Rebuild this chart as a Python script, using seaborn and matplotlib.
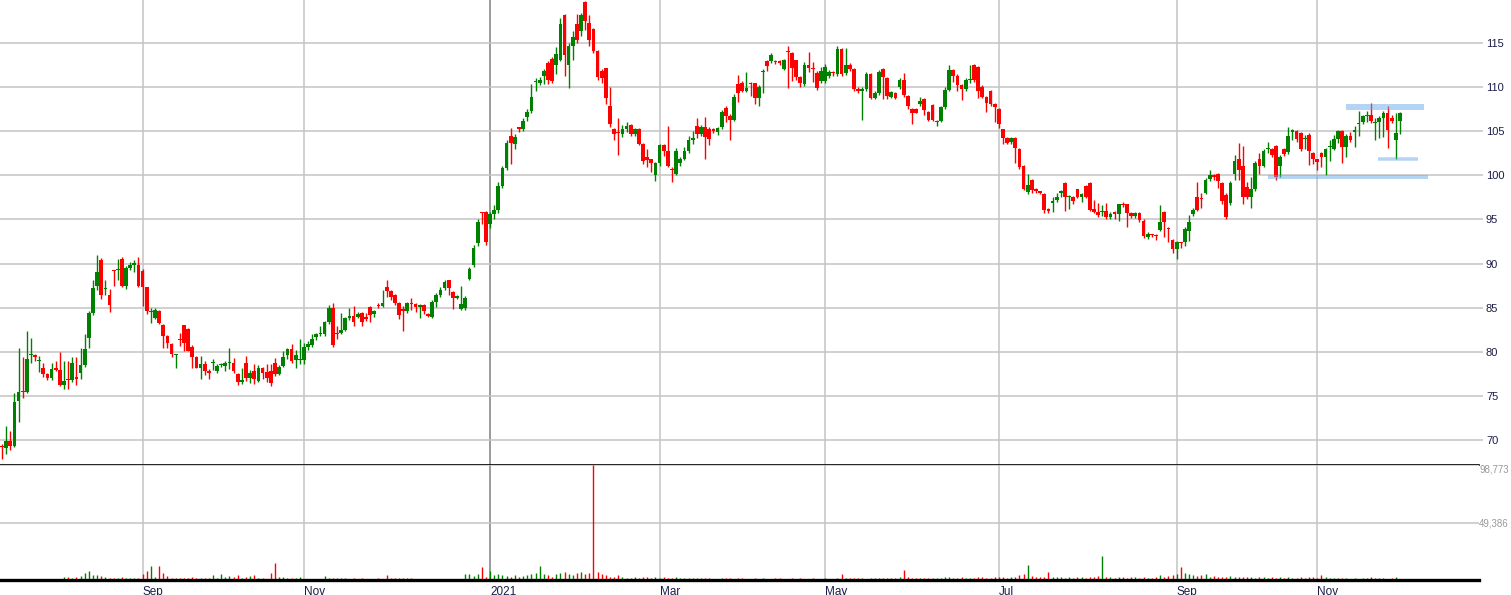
import numpy as np
import matplotlib
matplotlib.use('Agg')
import matplotlib.pyplot as plt
import seaborn as sns

# daily candles (index 0 = first candle on the left)
opens = [
    69.4, 69.1, 69.9, 69.4, 74.4, 75.6, 75.5, 79.6, 79.7, 78.95,
    78.2, 77.5, 77.1, 78.2, 78.0, 76.3, 76.9, 76.8, 77.2, 77.6,
    78.5, 81.6, 84.4, 87.5, 90.4, 87.1, 86.5, 89.3, 89.25, 90.5,
    87.5, 89.5, 89.9, 89.8, 89.2, 87.3, 84.5, 83.8, 84.6, 83.1,
    81.8, 80.9, 79.65, 81.4, 83.1, 82.6, 80.6, 79.4, 78.2, 78.6,
    77.8, 78.75, 77.8, 78.55, 78.4, 78.75, 78.8, 77.5, 76.6, 78.8,
    77.0, 77.8, 76.7, 78.2, 77.7, 77.8, 78.7, 77.5, 78.4, 79.7,
    80.3, 79.1, 79.1, 79.1, 80.6, 80.8, 81.7, 82.05, 82.0, 83.4,
    85.0, 82.1, 82.1, 82.5, 83.8, 84.1, 84.0, 84.4, 84.0, 85.1,
    84.3, 85.3, 85.2, 87.3, 86.9, 86.5, 85.5, 84.9, 84.6, 85.5,
    85.4, 85.1, 85.3, 84.3, 84.0, 85.7, 86.4, 87.2, 88.1, 86.8,
    86.1, 84.9, 85.0, 88.3, 89.8, 92.3, 95.8, 95.8, 94.5, 95.6,
    96.1, 98.8, 100.8, 104.4, 103.6, 105.4, 105.2, 106.6, 107.3, 110.55,
    110.5, 111.3, 112.7, 113.2, 112.5, 113.1, 118.2, 112.5, 114.6, 117.1,
    116.3, 119.6, 117.2, 116.6, 114.1, 111.8, 112.1, 107.8, 105.3, 104.85,
    104.7, 105.2, 105.7, 104.7, 105.3, 103.6, 102.1, 101.8, 100.0, 101.4,
    103.4, 102.7, 100.7, 100.2, 101.4, 101.9, 102.7, 104.0, 105.6, 104.7,
    105.5, 105.3, 105.2, 104.9, 105.5, 107.6, 106.7, 106.3, 110.3, 110.5,
    109.6, 110.45, 110.4, 108.7, 111.65, 112.9, 112.9, 112.95, 112.9, 112.0,
    114.05, 113.9, 113.0, 111.1, 110.3, 112.5, 112.15, 111.6, 110.7, 110.7,
    111.2, 111.65, 111.5, 114.3, 111.6, 112.5, 112.0, 109.8, 109.5, 109.8,
    111.5, 108.8, 109.3, 112.0, 111.0, 108.9, 109.3, 110.0, 110.8, 109.0,
    107.5, 107.5, 108.1, 108.6, 107.2, 108.0, 106.0, 106.2, 107.7, 109.7,
    111.9, 111.3, 110.2, 109.8, 110.75, 112.5, 112.3, 110.0, 108.9, 109.6,
    108.1, 107.5, 105.2, 104.2, 103.8, 104.2, 103.0, 101.1, 98.1, 99.5,
    98.5, 98.15, 97.9, 96.2, 96.9, 97.2, 98.05, 99.1, 97.5, 97.6,
    98.4, 97.6, 98.8, 99.1, 96.2, 95.9, 95.85, 96.0, 95.3, 95.8,
    95.6, 96.75, 96.7, 95.7, 95.4, 95.7, 94.8, 93.0, 93.3, 93.25,
    93.8, 95.9, 94.05, 92.7, 91.7, 92.45, 92.5, 93.7, 95.6, 97.6,
    97.45, 98.0, 99.6, 100.0, 100.2, 99.1, 97.8, 96.9, 100.1, 101.8,
    101.1, 98.7, 97.6, 98.4, 101.8, 101.1, 102.95, 103.0, 103.3, 101.1,
    103.0, 102.6, 104.95, 105.0, 104.8, 104.15, 104.6, 102.5, 101.8, 102.5,
    102.1, 103.15, 103.0, 104.1, 105.0, 103.2, 104.5, 104.95, 105.8, 106.0,
    106.75, 106.8, 105.95, 106.0, 106.5, 107.0, 106.5, 104.0, 106.1,
]
closes = [
    69.2, 69.9, 69.4, 74.3, 75.5, 75.5, 79.2, 79.7, 79.4, 79.05,
    77.5, 77.1, 78.1, 78.0, 76.3, 76.7, 76.8, 78.8, 76.9, 78.5,
    80.3, 84.4, 87.2, 89.0, 86.4, 87.2, 85.3, 89.2, 89.35, 87.5,
    89.5, 89.8, 90.0, 87.5, 87.4, 84.6, 84.6, 84.8, 83.3, 81.8,
    81.0, 79.8, 79.75, 81.3, 81.0, 80.1, 79.4, 78.2, 78.6, 77.8,
    77.6, 78.85, 78.4, 78.65, 78.8, 78.85, 77.8, 76.6, 76.8, 77.0,
    77.6, 76.9, 78.2, 77.6, 77.1, 76.5, 77.5, 78.3, 79.4, 80.3,
    79.0, 79.7, 79.2, 80.6, 80.9, 81.5, 82.0, 82.15, 83.4, 85.0,
    80.8, 82.0, 82.5, 83.8, 84.1, 83.4, 84.3, 83.4, 83.7, 84.2,
    84.6, 85.2, 85.5, 86.9, 86.2, 85.5, 84.2, 84.6, 85.5, 85.4,
    85.1, 85.3, 84.6, 84.1, 85.7, 86.4, 87.0, 87.9, 87.2, 86.1,
    86.3, 85.4, 86.1, 89.4, 91.8, 94.7, 95.7, 92.4, 95.6, 96.1,
    98.8, 100.8, 103.7, 103.7, 104.3, 105.3, 106.2, 107.2, 108.9, 110.65,
    110.8, 111.8, 110.8, 110.7, 113.7, 117.1, 113.6, 114.6, 115.7, 115.3,
    118.2, 117.5, 115.3, 114.1, 111.1, 111.0, 108.7, 105.8, 104.7, 104.75,
    105.2, 105.6, 104.7, 105.3, 103.6, 101.6, 101.7, 101.4, 101.4, 103.4,
    102.7, 101.1, 100.6, 102.7, 101.8, 102.7, 104.0, 104.2, 104.7, 105.5,
    104.3, 104.1, 105.0, 105.4, 107.2, 106.7, 106.3, 108.9, 109.3, 109.6,
    109.9, 110.35, 108.7, 110.0, 111.75, 112.4, 113.6, 112.85, 112.7, 113.1,
    113.95, 112.2, 111.1, 110.4, 112.5, 112.2, 112.05, 109.9, 111.8, 112.3,
    111.7, 111.55, 114.3, 111.5, 112.5, 112.0, 109.8, 109.5, 109.8, 111.5,
    108.8, 109.3, 111.7, 111.1, 109.0, 109.4, 108.8, 110.8, 109.1, 107.8,
    107.1, 107.1, 108.4, 107.4, 106.3, 106.3, 106.2, 107.7, 109.7, 111.9,
    111.3, 110.2, 109.8, 110.8, 110.85, 110.8, 109.5, 108.9, 108.2, 108.1,
    107.7, 105.8, 104.2, 103.7, 104.2, 103.1, 100.9, 98.5, 98.9, 98.3,
    98.2, 98.05, 96.1, 96.0, 97.1, 97.5, 98.15, 97.5, 97.6, 97.1,
    97.6, 97.9, 97.6, 96.1, 95.9, 95.5, 95.95, 95.3, 95.6, 95.6,
    96.7, 96.65, 95.7, 95.4, 95.7, 94.9, 93.1, 93.3, 93.2, 93.15,
    94.7, 94.7, 93.95, 91.7, 92.4, 92.35, 93.9, 94.7, 96.1, 96.1,
    97.35, 99.5, 100.0, 99.8, 99.3, 97.1, 95.3, 99.1, 101.6, 100.6,
    97.5, 97.6, 98.4, 101.4, 101.1, 102.8, 103.05, 102.3, 99.8, 102.1,
    102.4, 104.5, 105.05, 104.1, 103.0, 104.25, 102.8, 101.8, 101.5, 102.1,
    103.0, 103.25, 104.1, 105.0, 103.2, 104.5, 104.0, 105.05, 105.9, 106.7,
    106.85, 106.1, 106.05, 106.5, 107.0, 105.1, 106.2, 104.8, 107.1,
]
highs = [
    69.6, 71.6, 71.0, 75.3, 80.5, 79.4, 82.4, 81.6, 79.8, 79.5,
    78.7, 77.6, 78.7, 79.0, 80.0, 79.0, 79.0, 79.4, 79.4, 80.4,
    82.0, 84.6, 88.2, 91.0, 90.6, 88.2, 87.1, 89.3, 90.5, 90.7,
    89.7, 90.2, 90.4, 90.7, 89.4, 87.4, 85.0, 85.0, 84.8, 83.2,
    81.9, 81.0, 79.8, 82.1, 83.1, 82.7, 80.8, 79.5, 79.5, 79.0,
    78.1, 79.2, 78.6, 78.8, 79.0, 80.5, 79.3, 77.6, 78.2, 79.5,
    78.0, 78.6, 78.5, 78.3, 78.6, 78.6, 79.3, 78.5, 80.1, 80.4,
    80.9, 80.2, 81.5, 81.0, 81.2, 82.0, 82.2, 82.9, 83.5, 85.3,
    85.5, 82.9, 84.4, 84.0, 85.0, 85.2, 84.5, 84.5, 84.4, 85.2,
    84.8, 85.5, 87.0, 88.1, 87.0, 86.6, 85.6, 85.2, 85.6, 86.1,
    85.5, 85.4, 85.4, 84.4, 85.9, 86.7, 87.3, 88.1, 88.2, 86.9,
    86.5, 87.5, 86.3, 89.6, 92.1, 95.0, 95.9, 96.0, 95.8, 96.6,
    99.2, 101.0, 104.0, 105.4, 104.7, 105.5, 106.5, 107.5, 110.3, 111.0,
    111.1, 112.0, 112.9, 113.4, 114.5, 117.8, 118.3, 115.0, 116.3, 118.3,
    118.4, 119.7, 118.2, 116.7, 114.2, 112.0, 112.2, 110.0, 105.4, 106.5,
    105.7, 106.0, 105.8, 105.4, 105.4, 103.7, 103.0, 101.9, 101.5, 103.5,
    103.6, 105.6, 100.9, 103.1, 102.1, 103.2, 104.4, 105.0, 106.5, 105.7,
    106.6, 105.5, 105.4, 105.5, 107.4, 107.8, 106.9, 109.2, 111.4, 110.7,
    111.7, 110.6, 110.5, 110.2, 112.0, 113.1, 113.8, 113.1, 113.0, 113.2,
    114.6, 114.0, 113.1, 111.3, 112.8, 114.0, 112.8, 111.8, 112.3, 112.6,
    111.9, 111.8, 114.6, 114.4, 114.4, 112.7, 112.1, 110.0, 110.0, 111.7,
    111.6, 109.5, 111.9, 112.2, 111.1, 109.6, 109.4, 111.0, 111.6, 109.1,
    107.6, 107.6, 108.9, 108.7, 107.3, 108.1, 106.3, 107.9, 110.0, 112.5,
    112.0, 111.5, 110.3, 111.0, 112.5, 112.6, 112.4, 110.2, 109.0, 109.7,
    108.2, 107.6, 105.3, 104.3, 104.3, 104.3, 103.1, 101.2, 100.1, 99.6,
    98.6, 98.2, 98.0, 96.3, 97.5, 98.0, 98.3, 99.2, 97.8, 97.7,
    98.5, 98.0, 98.9, 99.2, 97.2, 96.9, 96.6, 96.9, 95.8, 96.0,
    96.8, 97.0, 96.8, 95.8, 95.8, 95.8, 95.0, 93.6, 93.4, 93.3,
    96.6, 96.0, 94.1, 92.8, 92.6, 92.5, 94.2, 95.5, 96.3, 99.2,
    98.0, 99.7, 100.6, 100.2, 100.3, 99.2, 98.0, 99.4, 102.3, 103.7,
    103.3, 99.2, 99.8, 101.6, 102.5, 103.0, 103.8, 103.1, 103.4, 102.3,
    103.1, 105.5, 105.2, 105.1, 104.9, 104.6, 104.8, 102.6, 101.9, 102.6,
    103.1, 104.0, 104.6, 105.1, 105.1, 104.7, 104.9, 105.6, 107.3, 106.8,
    107.3, 108.2, 106.5, 106.7, 107.3, 107.9, 106.8, 107.1, 107.2,
]
lows = [
    67.9, 68.4, 68.9, 69.2, 72.1, 74.8, 75.4, 78.8, 79.0, 77.7,
    77.2, 76.8, 76.8, 77.8, 76.1, 75.8, 75.8, 76.6, 76.3, 76.9,
    78.3, 80.4, 84.2, 87.0, 86.0, 86.4, 84.5, 87.5, 88.2, 87.3,
    87.1, 89.3, 89.0, 87.4, 85.2, 84.3, 83.3, 83.7, 83.2, 80.5,
    80.5, 79.4, 78.2, 80.7, 80.1, 80.1, 78.2, 78.2, 76.9, 77.4,
    76.9, 77.9, 77.6, 78.3, 77.8, 78.1, 77.6, 76.3, 76.4, 76.7,
    76.5, 76.4, 76.6, 76.9, 76.6, 76.1, 77.3, 77.4, 78.3, 79.2,
    78.7, 78.2, 78.6, 78.6, 80.2, 80.6, 81.4, 81.8, 81.8, 83.2,
    80.6, 81.5, 82.0, 82.4, 83.6, 82.9, 83.8, 82.9, 83.5, 83.4,
    84.0, 85.0, 85.1, 86.2, 85.9, 85.3, 83.7, 82.4, 84.4, 84.8,
    84.5, 83.9, 84.3, 84.0, 83.8, 85.1, 86.2, 87.0, 86.5, 84.9,
    86.0, 84.7, 84.7, 88.2, 89.6, 92.0, 94.5, 92.1, 94.0, 95.1,
    95.7, 98.6, 100.6, 101.3, 103.0, 104.9, 105.0, 106.2, 107.0, 109.5,
    110.2, 110.3, 110.3, 110.5, 111.5, 112.9, 111.3, 109.9, 113.0, 115.0,
    115.8, 116.4, 114.6, 113.9, 110.8, 110.5, 108.1, 105.5, 104.0, 102.3,
    104.3, 104.9, 104.5, 104.5, 103.4, 101.3, 100.9, 100.4, 99.4, 101.1,
    102.2, 100.9, 99.2, 100.0, 101.1, 101.7, 102.5, 103.6, 104.2, 104.5,
    101.9, 103.4, 104.8, 104.6, 105.3, 106.0, 104.0, 106.1, 108.3, 109.4,
    109.4, 109.0, 108.1, 107.9, 109.3, 111.8, 112.7, 112.6, 112.5, 111.9,
    109.9, 110.7, 110.8, 110.0, 110.1, 111.7, 110.6, 109.7, 110.5, 110.5,
    111.0, 111.3, 111.3, 111.3, 111.4, 111.8, 109.6, 109.3, 106.3, 109.6,
    108.6, 108.6, 109.1, 108.6, 108.6, 108.7, 108.6, 109.8, 108.9, 107.5,
    105.8, 107.0, 107.9, 106.8, 106.1, 106.1, 105.6, 106.0, 107.5, 109.5,
    110.6, 109.5, 108.5, 109.6, 110.5, 110.6, 108.8, 108.7, 107.2, 107.9,
    106.0, 105.4, 103.5, 103.5, 103.6, 101.4, 100.7, 98.3, 97.9, 98.0,
    98.0, 97.9, 95.7, 95.7, 95.9, 97.0, 97.6, 96.0, 96.2, 96.8,
    97.4, 97.0, 97.4, 96.0, 95.7, 95.3, 95.4, 95.1, 95.1, 95.1,
    94.8, 96.4, 94.2, 95.2, 95.2, 94.7, 92.9, 92.8, 93.0, 92.7,
    93.7, 93.0, 92.4, 91.2, 90.5, 91.8, 92.0, 92.6, 95.4, 96.0,
    96.3, 97.9, 99.4, 99.5, 98.6, 96.8, 95.0, 96.6, 99.5, 99.5,
    96.8, 97.3, 96.3, 98.2, 100.2, 100.9, 102.5, 102.1, 99.5, 99.8,
    102.2, 102.4, 104.0, 103.8, 102.8, 103.0, 101.2, 101.3, 100.6, 100.9,
    100.0, 101.6, 102.9, 103.7, 101.4, 102.1, 103.8, 103.2, 104.4, 105.8,
    106.0, 105.9, 104.0, 104.2, 104.3, 103.1, 105.9, 101.8, 104.7,
]
# volume in thousands of shares
volume_k = [
    1.0, 0.8, 0.9, 1.1, 1.2, 1.0, 0.9, 1.0, 1.1, 0.9, 0.8, 1.0, 0.9, 1.1, 1.0,
    2.3, 2.9, 1.7, 2.9, 3.4, 5.7, 7.4, 4.3, 4.3, 3.4, 2.9, 1.7, 1.7, 2.0, 2.3, 1.7, 1.4, 1.4, 1.7,
    5.1, 7.4, 11.7, 2.3, 11.7, 6.3, 3.7, 2.0, 1.4, 2.0, 2.0, 1.4, 2.9, 1.7, 1.4, 1.4, 1.4,
    4.0, 1.7, 5.1, 2.3, 3.4, 2.6, 4.0, 1.7, 2.6, 3.4, 4.3, 1.4, 1.7, 1.1, 5.7, 14.3, 2.6, 2.6,
    1.7, 2.0, 2.0, 2.6, 1.1, 1.1, 1.2, 1.0, 1.1,
    3.7, 1.7, 1.7, 1.7, 1.7, 1.4, 1.2, 1.4, 1.2, 1.4, 1.2, 1.0, 1.2, 1.4, 1.2,
    4.0, 2.0, 1.4, 1.4, 1.4, 1.4, 1.4, 1.2, 1.1, 1.2, 1.1, 1.2, 1.0, 1.1, 1.2, 1.0, 1.1, 1.2, 1.1,
    4.9, 5.1, 3.4, 5.1, 10.9, 2.3, 8.0,
    4.0, 5.0, 4.5, 3.5, 3.0, 4.0, 3.0, 3.5, 4.0, 5.0, 6.0, 12.0, 5.0, 4.0, 3.0, 5.0, 6.0, 7.0,
    5.0, 4.0, 6.0, 7.0, 5.0, 6.0,
    98.773,
    7.0, 5.0, 4.0, 3.0, 3.0, 4.0, 2.5, 2.0, 2.0, 3.0, 2.0, 2.5, 3.0, 2.0, 2.5, 2.0, 3.0,
    2.0, 1.5, 2.5, 2.0, 1.5, 2.0, 1.5, 1.5, 2.0, 1.5, 1.5, 1.2, 1.2, 2.0, 1.5, 1.5, 1.2, 1.5, 1.5, 1.2,
    1.2, 1.5, 1.2, 1.5, 1.2, 1.2, 1.5, 1.5, 1.2, 1.2, 1.5, 1.2, 1.5, 1.2, 1.2, 1.5, 1.2, 1.2, 1.5, 1.2,
    1.2, 1.5, 5.0, 2.0, 1.5, 1.5, 2.0, 1.5, 1.2, 1.5, 2.0, 1.5, 1.5, 2.0, 1.5, 1.5, 2.5, 8.5, 3.0, 2.0,
    1.5, 1.5, 2.0, 1.5, 2.0, 1.5, 2.0, 2.5, 3.0, 2.0, 2.0, 2.5, 2.0, 1.5, 2.0, 3.0, 2.5, 2.0, 1.5, 3.0,
    3.0, 2.5, 2.0, 2.5, 3.0, 4.0, 5.0, 13.0, 3.5, 3.0, 3.0, 2.5, 6.5, 3.0, 2.5, 2.5, 2.0, 2.5, 2.0, 3.0,
    2.5, 2.0, 2.5, 3.0, 3.5, 21.0, 3.0, 2.5, 2.0, 3.0, 2.5, 2.0, 2.5, 3.0, 2.0, 2.5, 2.0, 2.0, 2.5, 4.5,
    3.0, 3.5, 4.0, 5.0, 11.0, 6.0, 5.0, 4.5, 3.5, 4.0, 5.0, 3.0, 3.5, 3.0, 2.5, 3.0, 3.5, 2.5, 3.0, 2.5,
    3.0, 2.5, 2.0, 2.5, 3.0, 2.0, 2.5, 2.0, 2.5, 2.0, 2.5, 2.0, 2.0, 2.5, 2.0, 2.5, 3.0, 2.0, 4.0, 2.5,
    2.0, 1.5, 2.0, 1.5, 1.5, 1.2, 1.5, 1.2, 1.5, 2.0, 3.0, 1.5, 1.5, 1.5, 1.2, 1.5, 2.8, 1.0,
]

month_ticks = [34, 73, 118, 159, 199, 241, 284, 318]
month_labels = ['Sep', 'Nov', '2021', 'Mar', 'May', 'Jul', 'Sep', 'Nov']
price_ticks = [70, 75, 80, 85, 90, 95, 100, 105, 110, 115]
volume_ticks = [49386, 98773]
volume_tick_labels = ['49,386', '98,773']

# hand-drawn support / resistance lines (price, first candle, last candle, px thick)
level_prices = [107.7, 101.9, 99.8]
level_starts = [325.0, 332.7, 306.1]
level_ends = [343.8, 342.4, 344.8]
level_px = [6, 3.5, 4]

sns.set_style('white')
plt.rcParams['font.family'] = ['Liberation Sans', 'DejaVu Sans']

o = np.array(opens)
c = np.array(closes)
hi = np.maximum(np.array(highs), np.maximum(o, c))
lo = np.minimum(np.array(lows), np.minimum(o, c))
idx = np.arange(len(o))
up = c >= o
GREEN, RED = '#008000', '#ff0000'
cols = np.where(up, GREEN, RED)

fig = plt.figure(figsize=(15.11, 5.95), dpi=100)
ax = fig.add_axes([0, 130 / 595, 1479 / 1511, 465 / 595])
axv = fig.add_axes([0, 15 / 595, 1479 / 1511, 115 / 595])

xlim = (-0.48, 357.1)
grid_kw = dict(color='#c4c4c4', lw=1.1)
label_col = '#1c1c48'

# price panel
ax.vlines(idx, lo, hi, colors=cols, lw=1.0, zorder=3)
body = np.maximum(np.abs(c - o), 0.13)
ax.bar(idx, body, bottom=np.minimum(o, c), width=0.9, color=cols, lw=0, zorder=4)
for p, s, e, w in zip(level_prices, level_starts, level_ends, level_px):
    ax.hlines(p, s, e, color='#6aaae8', alpha=0.5, lw=w * 0.72, zorder=5)

ax.set_xlim(*xlim)
ax.set_ylim(67.2, 119.85)
ax.set_xticks(month_ticks)
ax.set_yticks(price_ticks)
ax.yaxis.tick_right()
ax.grid(True, **grid_kw)
ax.get_xgridlines()[2].set_color('#808080')
ax.tick_params(axis='x', labelbottom=False, length=0)
ax.tick_params(axis='y', length=3, width=1.1, color='#c4c4c4', labelsize=8,
               labelcolor=label_col, pad=2)
for s in ['top', 'left', 'right']:
    ax.spines[s].set_visible(False)
ax.spines['bottom'].set_color('black')
ax.spines['bottom'].set_linewidth(1.2)
ax.set_axisbelow(True)

# volume panel: one thin bar per session, coloured like its candle
axv.vlines(idx, 0, np.array(volume_k) * 1000, colors=cols, lw=1.0, zorder=3)
axv.set_xlim(*xlim)
axv.set_ylim(0, 98773)
axv.set_xticks(month_ticks)
axv.set_xticklabels(month_labels, ha='left')
axv.set_yticks(volume_ticks)
axv.set_yticklabels(volume_tick_labels)
axv.yaxis.tick_right()
axv.grid(True, **grid_kw)
axv.get_xgridlines()[2].set_color('#808080')
axv.tick_params(axis='x', length=0, labelsize=8.5, labelcolor=label_col, pad=4)
axv.tick_params(axis='y', length=0, labelsize=7, labelcolor='#999999', pad=0)
axv.get_yticklabels()[1].set_verticalalignment('top')
for s in ['top', 'left', 'right']:
    axv.spines[s].set_visible(False)
axv.spines['bottom'].set_color('black')
axv.spines['bottom'].set_linewidth(2.4)
axv.spines['bottom'].set_zorder(5)
axv.set_axisbelow(True)

fig.savefig('out.png', dpi=100, facecolor='white')
